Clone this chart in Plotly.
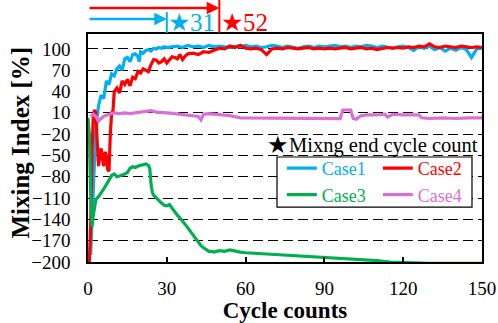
import plotly.graph_objects as go

# ---------------- data ----------------
c1_t = [1, 2, 3, 4, 5, 6, 7, 8, 9, 10, 11, 12, 13, 14, 15, 16, 17, 18, 19, 19.5, 20,
        21, 22, 23, 24, 25, 26, 27, 28, 29, 30] + list(range(32, 151, 2))
c1_v = [-190, -100, -10, 20, 35, 30, 55, 50, 65, 62, 72, 76, 70, 86, 88, 82, 92, 93, 89, 82, 96,
        94, 98, 99, 97, 101, 100, 102, 101, 103, 102,
        103, 104, 102, 105, 103, 104, 102, 105, 103, 104, 103, 102, 104, 103, 105, 103, 104, 102,
        103, 105, 104, 102, 104, 103, 101, 103, 104, 102, 104, 103, 104, 105, 103, 104, 102, 104,
        103, 105, 104, 102, 104, 103, 101, 103, 104, 102, 98, 103, 101, 104, 99, 102, 97, 101,
        98, 102, 99, 88, 100, 101]

c2_t = [0.5, 1, 1.5, 2, 2.5, 3, 3.5, 4, 4.5, 5, 5.5, 6, 6.5, 7, 7.5, 8, 8.5, 9, 9.5, 10,
        11, 12, 13, 14, 15, 16, 17, 18, 19, 20, 21, 22, 23, 24, 25, 26, 27, 28, 29, 30,
        31, 32, 33, 34, 35, 36, 37, 38] + list(range(40, 151, 2))
c2_v = [-200, -150, -50, 5, 14, 10, -30, -65, -50, -40, -55, -65, -45, -50, -70, -72, -20, 10, 12, 40,
        45, 38, 55, 50, 57, 48, 60, 58, 68, 66, 72, 70, 68, 78, 85, 84, 80, 82, 86, 80,
        84, 89, 88, 86, 92, 85, 90, 93,
        94, 92, 96, 95, 98, 101, 100, 104, 102, 105, 101, 100, 101, 99, 92, 100, 101, 100, 102,
        101, 100, 101, 102, 100, 101, 100, 101, 100, 101, 102, 100, 101, 102, 100, 101, 99, 101,
        102, 101, 102, 101, 103, 102, 104, 103, 107, 103, 102, 104, 103, 102, 104, 103, 102, 103, 102]

c3_t = [0, 0.5, 1, 1.5, 2, 2.5, 3, 4, 5, 6, 7, 8, 9, 10, 11, 12, 13, 14, 15, 16, 17, 18, 19, 20,
        21, 22, 23, 23.5, 24, 24.5, 25, 26, 27, 28, 29, 30, 31, 32, 33, 34, 35, 36, 37, 38, 39,
        40, 41, 42, 43, 44, 45, 46, 47, 48, 50, 52, 54, 56, 58, 60, 65, 70, 75, 80, 85, 90, 95,
        100, 105, 110, 115, 120, 130, 140, 150]
c3_v = [3, -20, -100, -150, -135, -122, -112, -108, -103, -97, -91, -85, -78, -76, -80, -79, -78,
        -76, -74, -68, -66, -67, -65, -64, -63, -62, -64, -68, -90, -102, -106, -110, -114, -117,
        -120, -121, -119, -124, -130, -134, -138, -142, -147, -152, -157, -163, -168, -172, -177,
        -180, -183, -185, -185, -186, -184, -185, -183, -185, -186, -187, -188, -189, -190, -191,
        -192, -194, -195, -196, -197, -198, -200, -201, -202, -202, -202]

c4_t = [1, 2, 3, 3.5, 4, 5, 6, 8, 10, 12, 14, 16, 18, 20, 22, 24, 26, 28, 30, 33, 36, 39, 42,
        43, 44, 46, 50, 54, 58, 62, 66, 70, 74, 78, 82, 86, 90, 94, 96, 97, 100, 101, 102, 104,
        106, 110, 113, 114, 116, 120, 124, 126, 127, 130, 135, 140, 145, 150]
c4_v = [5, 8, 5, 0, -2, 2, 5, 8, 10, 9, 10, 9, 10, 11, 12, 13, 11, 10, 10, 9, 8, 7, 5,
        0, 8, 9, 8, 6, 3, 3, 2, 3, 2, 3, 2, 3, 2, 3, 2, 14, 14, 2, 1, 6,
        7, 7, 8, 4, 8, 7, 7, 7, 3, 2, 3, 2, 3, 3]

series_names = ["Case1", "Case2", "Case3", "Case4"]
series_colors = ["#00B0F0", "#FF0000", "#00B050", "#DA70D6"]
series_t = [c1_t, c2_t, c3_t, c4_t]
series_v = [c1_v, c2_v, c3_v, c4_v]
series_legend = ["legend", "legend", "legend2", "legend2"]

x_ticks = [0, 30, 60, 90, 120, 150]
y_ticks = [100, 70, 40, 10, -20, -50, -80, -110, -140, -170, -200]

end_labels = ["31", "52"]
end_marker_x = [30, 50]
end_colors = ["#00B0F0", "#FF0000"]

FONT = "Liberation Serif"

fig = go.Figure()
for name, col, t, v, lg in zip(series_names, series_colors, series_t, series_v, series_legend):
    fig.add_trace(go.Scatter(
        x=t, y=v, mode="lines", line=dict(color=col, width=3.2),
        name=f"<span style='color:{col}'>{name}</span>", legend=lg,
    ))

# top markers: arrows, bars, labels
arrow_y = [1.0658, 1.114]
bar_top = [1.096, 1.149]
annotations = []
shapes = []
for lab, xm, col, ay, bt in zip(end_labels, end_marker_x, end_colors, arrow_y, bar_top):
    annotations.append(dict(
        x=xm, y=ay, xref="x", yref="paper", ax=0, ay=0, axref="x", ayref="pixel",
        text="", showarrow=True, arrowhead=2, arrowsize=1, arrowwidth=2.5,
        arrowcolor=col, standoff=0,
    ))
    shapes.append(dict(type="line", xref="x", yref="paper", x0=xm, x1=xm, y0=1.005, y1=bt,
                       line=dict(color=col, width=2)))
    annotations.append(dict(
        x=xm + 0.1, y=1.05, xref="x", yref="paper", xanchor="left", yanchor="middle",
        text="★" + lab, showarrow=False, borderpad=0,
        font=dict(family=FONT, size=25, color=col),
    ))

annotations.append(dict(
    x=0.452, y=0.515, xref="paper", yref="paper", xanchor="left", yanchor="middle",
    text="★", showarrow=False, borderpad=0,
    font=dict(family="DejaVu Sans", size=24, color="black"),
))
annotations.append(dict(
    x=0.507, y=0.513, xref="paper", yref="paper", xanchor="left", yanchor="middle",
    text="Mixng end cycle count", showarrow=False, borderpad=0,
    font=dict(family=FONT, size=20.5, color="black"),
))
# y-axis title
annotations.append(dict(
    x=-0.17, y=0.524, xref="paper", yref="paper", xanchor="center", yanchor="middle",
    text="<b>Mixing Index [%]</b>", textangle=-90, showarrow=False,
    font=dict(family=FONT, size=25, color="black"),
))

# legend box
shapes.append(dict(type="rect", xref="paper", yref="paper", x0=0.4797, x1=0.9746,
                   y0=0.241, y1=0.4605, line=dict(color="black", width=1.2),
                   fillcolor="white", layer="above"))

leg_common = dict(orientation="h", xanchor="left", yanchor="middle",
                  bgcolor="rgba(0,0,0,0)", borderwidth=0,
                  font=dict(family=FONT, size=18),
                  entrywidth=51, entrywidthmode="pixels", itemwidth=30)

fig.update_layout(
    width=498, height=323,
    margin=dict(l=88, r=16, t=34, b=61),
    paper_bgcolor="white", plot_bgcolor="white",
    font=dict(family=FONT, size=18, color="black"),
    showlegend=True,
    legend=dict(x=0.492, y=0.41, **leg_common),
    legend2=dict(x=0.492, y=0.294, **leg_common),
    annotations=annotations,
    shapes=shapes,
    xaxis=dict(
        range=[0, 150], tickvals=x_ticks, ticks="inside", ticklen=5, tickwidth=1.5,
        tickcolor="black", showline=True, linecolor="black", linewidth=1.5, mirror=True,
        showgrid=False, zeroline=False, automargin=False, ticklabelstandoff=8,
        title=dict(text="<b>Cycle counts</b>", font=dict(family=FONT, size=23), standoff=0),
        tickfont=dict(family=FONT, size=19),
    ),
    yaxis=dict(
        range=[-200, 121], tickvals=y_ticks, ticks="", showline=True, linecolor="black",
        linewidth=1.5, mirror=True, showgrid=True, gridcolor="black", gridwidth=1.3,
        griddash="10px,5px", zeroline=False, automargin=False, ticklabelstandoff=12,
        tickfont=dict(family=FONT, size=19),
    ),
)

fig.write_html("out.html", config={"displayModeBar": False},
               post_script="document.body.style.margin='0px';")
